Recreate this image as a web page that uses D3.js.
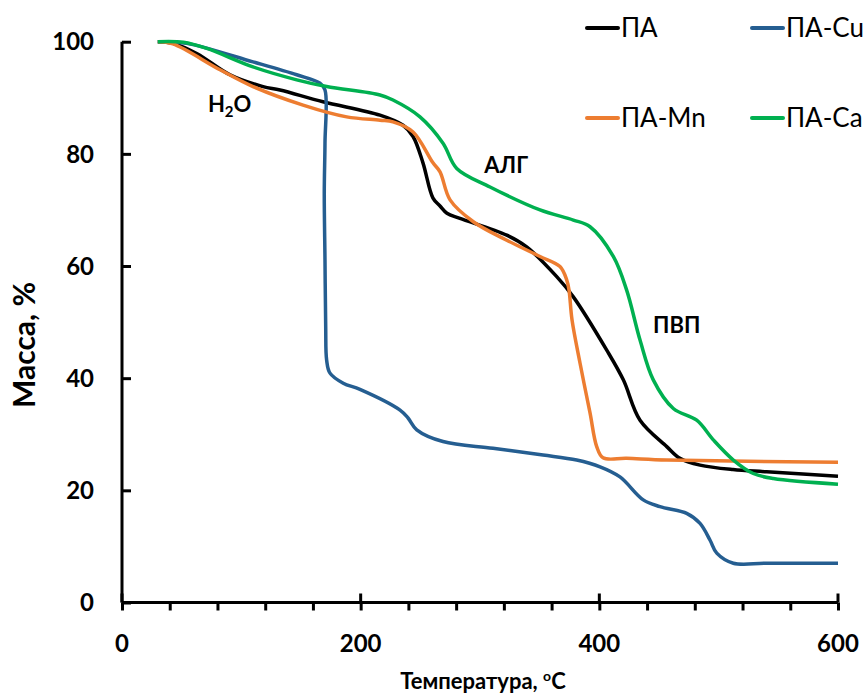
<!DOCTYPE html>
<html>
<head>
<meta charset="utf-8">
<script src="https://cdn.jsdelivr.net/npm/d3@7"></script>
<style>
  body { margin: 0; background: #fff; }
  text { font-family: Lato, "Open Sans", sans-serif; }
</style>
</head>
<body>
<div id="chart"></div>
<script>
// Series names and colours (legend order)
const seriesNames = ["ПА", "ПА-Cu", "ПА-Mn", "ПА-Ca"];
const seriesColors = ["#000000", "#255e91", "#ed7d31", "#00b050"];

// ПА
const tempPA = [30, 42.7, 62.6, 90.5, 118.2, 132.4, 168.4, 216.2, 235.5, 243.9, 252.2, 260.6, 266.5, 272.3, 283.2, 322.4, 339.1, 364.3, 378.2, 406.2, 420.1, 434.1, 456.5, 467.6, 484.4, 512, 540.3, 600];
const massPA = [100, 99.7, 97.9, 94.1, 92.0, 91.4, 89.3, 86.9, 85.1, 83.1, 78.4, 72.1, 70.7, 69.4, 68.5, 65.5, 63.4, 58.1, 54.5, 45.0, 39.7, 32.5, 27.8, 25.7, 24.5, 23.7, 23.3, 22.5];

// ПА-Cu
const tempCu = [30, 54.2, 109.8, 146.4, 165.9, 170.1, 170.1, 169.5, 170.1, 170.7, 171.5, 174.3, 185.4, 199.4, 233, 239.7, 247, 269, 310.9, 352.8, 381, 400.6, 417.3, 436.8, 450.8, 473.2, 484.4, 492.8, 498.4, 512.3, 540.3, 600];
const massCu = [100, 99.7, 96.4, 94.1, 92.6, 91.4, 81.9, 73.0, 61.1, 49.2, 43.2, 40.9, 39.1, 38.0, 34.3, 32.9, 30.8, 28.7, 27.5, 26.3, 25.4, 24.2, 22.4, 18.3, 17.1, 15.9, 14.1, 11.1, 8.8, 7.0, 7.0, 7.0];

// ПА-Mn
const tempMn = [30, 42.7, 82.1, 109.8, 151.7, 188.3, 216.2, 227.1, 243.9, 260.6, 266.5, 274.9, 294.4, 322.4, 350.3, 367, 372.7, 374.6, 377.1, 383.8, 392.2, 397.8, 403.1, 422.9, 456.5, 600];
const massMn = [100, 99.6, 95.0, 92.0, 88.7, 86.6, 86.0, 85.7, 83.9, 78.4, 76.8, 71.8, 67.9, 64.6, 61.7, 59.9, 57.5, 55.7, 50.4, 42.7, 33.8, 27.8, 25.8, 25.7, 25.4, 25.0];

// ПА-Ca
const tempCa = [30, 51.4, 71, 109.8, 146.4, 171.5, 216.2, 227.1, 249.7, 269, 280.5, 308.4, 350.3, 378.2, 392.2, 411.7, 422.9, 434.1, 445.2, 462, 481.6, 495.5, 512.3, 529, 545.8, 600];
const massCa = [100, 99.9, 98.8, 95.5, 93.2, 92.0, 90.5, 89.6, 86.6, 81.9, 77.4, 74.1, 70.0, 68.2, 67.0, 61.7, 55.7, 46.8, 39.7, 34.6, 32.5, 29.0, 25.4, 23.0, 22.1, 21.1];

// Axis ticks
const xTickLabels = [0, 200, 400, 600];
const xMinorTicks = d3.range(0, 601, 40);
const yTickLabels = [0, 20, 40, 60, 80, 100];

// Annotations on the plot
const notes = [
  { t: 72, m: 87.5, label: "H2O" },
  { t: 303.5, m: 76.5, label: "АЛГ" },
  { t: 445, m: 48, label: "ПВП" },
];

const temps = [tempPA, tempCu, tempMn, tempCa];
const masses = [massPA, massCu, massMn, massCa];
const data = seriesNames.map((name, i) => ({
  name,
  color: seriesColors[i],
  values: temps[i].map((t, j) => ({ t, m: masses[i][j] })),
}));

const width = 863;
const height = 693;
const margin = { top: 41.7, right: 25, bottom: 90.5, left: 122 };

const svg = d3
  .select("#chart")
  .append("svg")
  .attr("width", width)
  .attr("height", height);

const x = d3.scaleLinear().domain([0, 600]).range([margin.left, width - margin.right]);
const y = d3.scaleLinear().domain([0, 100]).range([height - margin.bottom, margin.top]);

// Curves
const line = d3
  .line()
  .curve(d3.curveCatmullRom.alpha(0.5))
  .x((d) => x(d.t))
  .y((d) => y(d.m));

svg
  .selectAll(".series")
  .data(data)
  .enter()
  .append("path")
  .attr("class", "series")
  .attr("d", (d) => line(d.values))
  .attr("fill", "none")
  .attr("stroke", (d) => d.color)
  .attr("stroke-width", 3.5)
  .attr("stroke-linejoin", "round");

// Y axis (ticks point inward)
const yAxis = svg
  .append("g")
  .attr("transform", `translate(${margin.left},0)`)
  .call(d3.axisRight(y).tickValues(yTickLabels).tickSize(9).tickFormat(""));
yAxis.select(".domain").attr("stroke", "#000").attr("stroke-width", 3).attr("d", `M0,${y(100)}V${y(0)}`);
yAxis.selectAll(".tick line").attr("stroke", "#000").attr("stroke-width", 3);

svg
  .selectAll(".ylab")
  .data(yTickLabels)
  .enter()
  .append("text")
  .attr("class", "ylab")
  .attr("x", 94)
  .attr("y", (d) => y(d))
  .attr("dy", "0.36em")
  .attr("text-anchor", "end")
  .attr("font-size", 24)
  .attr("font-weight", "bold")
  .text((d) => d);

// X axis: minor ticks below, major ticks crossing
const xAxis = svg
  .append("g")
  .attr("transform", `translate(0,${y(0)})`)
  .call(d3.axisBottom(x).tickValues(xMinorTicks).tickSize(8).tickFormat(""));
xAxis.select(".domain").attr("stroke", "#000").attr("stroke-width", 3).attr("d", `M${x(0)},0H${x(600)}`);
xAxis.selectAll(".tick line").attr("stroke", "#000").attr("stroke-width", 3);

svg
  .selectAll(".xmajor")
  .data(xTickLabels)
  .enter()
  .append("line")
  .attr("class", "xmajor")
  .attr("x1", (d) => x(d))
  .attr("x2", (d) => x(d))
  .attr("y1", y(0) - 9)
  .attr("y2", y(0))
  .attr("stroke", "#000")
  .attr("stroke-width", 3);

svg
  .selectAll(".xlab")
  .data(xTickLabels)
  .enter()
  .append("text")
  .attr("class", "xlab")
  .attr("x", (d) => x(d))
  .attr("y", 652)
  .attr("text-anchor", "middle")
  .attr("font-size", 24)
  .attr("font-weight", "bold")
  .text((d) => d);

// Axis titles
const xTitle = svg
  .append("text")
  .attr("x", (x(0) + x(600)) / 2 + 3)
  .attr("y", 689)
  .attr("text-anchor", "middle")
  .attr("font-size", 22)
  .attr("font-weight", "bold")
  .text("Температура, ");
xTitle.append("tspan").attr("font-size", 14).attr("dy", -8).text("o");
xTitle.append("tspan").attr("dy", 8).text("C");

svg
  .append("text")
  .attr("transform", `translate(35,${345}) rotate(-90)`)
  .attr("text-anchor", "middle")
  .attr("font-size", 30)
  .attr("font-weight", "bold")
  .text("Масса, %");

// Annotations
const noteText = svg
  .selectAll(".note")
  .data(notes)
  .enter()
  .append("text")
  .attr("class", "note")
  .attr("x", (d) => x(d.t))
  .attr("y", (d) => y(d.m))
  .attr("font-size", 22)
  .attr("font-weight", "bold");
noteText.each(function (d) {
  const t = d3.select(this);
  if (d.label === "H2O") {
    t.append("tspan").text("H");
    t.append("tspan").attr("font-size", 15).attr("dy", 5).text("2");
    t.append("tspan").attr("dy", -5).text("O");
  } else {
    t.text(d.label);
  }
});

// Legend
const legend = svg
  .selectAll(".legend")
  .data(data)
  .enter()
  .append("g")
  .attr("class", "legend")
  .attr("transform", (d, i) => `translate(${587 + (i % 2) * 165},${28 + Math.floor(i / 2) * 90})`);

legend
  .append("line")
  .attr("x1", 0)
  .attr("x2", 31)
  .attr("stroke", (d) => d.color)
  .attr("stroke-width", 4)
  .attr("stroke-linecap", "round");

legend
  .append("text")
  .attr("x", 34)
  .attr("dy", "0.36em")
  .attr("font-size", 26)
  .text((d) => d.name);
</script>
</body>
</html>
